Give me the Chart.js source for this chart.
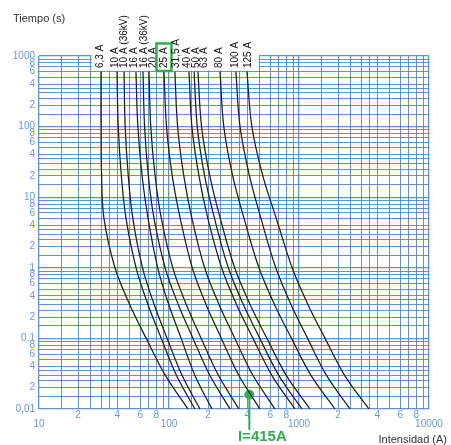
<!DOCTYPE html>
<html>
<head>
<meta charset="utf-8">
<script src="https://cdn.jsdelivr.net/npm/chart.js@4/dist/chart.umd.min.js"></script>
<style>
  html, body { margin: 0; padding: 0; background: #fff; }
  #wrap { width: 451px; height: 445px; position: relative; }
</style>
</head>
<body>
<div id="wrap"><canvas id="c"></canvas></div>
<script>
// Time points (s) at which each melting curve is read
const times = [600, 100, 20, 5, 1, 0.3, 0.1, 0.03, 0.01];

// Current (A) of each fuse curve at the times above
const a6_3    = [30.0, 30.0, 30.3, 31.6, 38.4, 49.9, 66.8, 93.8, 140];
const a10     = [39.8, 40.7, 43.0, 46.7, 55.8, 69.0, 87.3, 114, 158];
const a10kv36 = [45.1, 46.0, 48.6, 52.7, 62.6, 77.0, 96.8, 126, 173];
const a16     = [55.7, 57.6, 62.1, 69.0, 81.9, 99.7, 124, 158, 214];
const a16kv36 = [63.1, 64.9, 69.4, 76.7, 93.4, 118, 153, 206, 295];
const a20     = [70.2, 72.4, 78.2, 87.3, 107, 136, 177, 240, 345];
const a25     = [91.5, 95.7, 106, 122, 151, 193, 253, 344, 501];
const a31_5   = [111, 116.5, 130, 150, 188, 243, 321, 442, 654];
const a40     = [142.5, 150, 170, 199, 254, 331, 443, 618, 932];
const a50     = [156, 165, 188, 224, 286, 374, 500, 699, 1055];
const a63     = [167, 178, 206, 248, 320, 421, 567, 798, 1215];
const a80     = [247, 264, 309, 378, 492, 649, 876, 1236, 1892];
const a100    = [327, 352, 416, 510, 663, 869, 1165, 1628, 2468];
const a125    = [398, 434, 527, 669, 886, 1173, 1587, 2243, 3455];

const fuseNames = ['6,3 A', '10 A', '10 A (36kV)', '16 A', '16 A (36kV)', '20 A', '25 A',
                   '31,5 A', '40 A', '50 A', '63 A', '80 A', '100 A', '125 A'];
const fuseCurves = [a6_3, a10, a10kv36, a16, a16kv36, a20, a25, a31_5, a40, a50, a63, a80, a100, a125];
const highlighted = '25 A';

// Marked operating point
const opCurrent = 415;
const opTime = 0.016;
const opLabel = 'I=415A';

// Grid subdivisions inside each decade and the ones that get a number
const gridSteps = [1, 1.5, 2, 2.5, 3, 3.5, 4, 5, 6, 7, 8, 9];
const numberedSteps = [2, 4, 6, 8];
const xDecades = [10, 100, 1000, 10000];
const xDecadeLabels = ['10', '100', '1000', '10000'];
const yDecades = [0.01, 0.1, 1, 10, 100, 1000];
const yDecadeLabels = ['0,01', '0,1', '1', '10', '100', '1000'];

// ---- drawing ----
const GRID = 'rgba(66,122,208,0.82)';
const TICK_TXT = '#6f96d9';
const GREEN = '#2fae4e';
// horizontal pixel nudges for the rotated rating labels
const labelNudge = [-1, -2, 0, -2, 1, 4, 0, 1, -2, 2, 6, -1, -1, 1];

function gridValues(decades) {
  const out = [];
  for (let i = 0; i < decades.length - 1; i++) {
    for (const s of gridSteps) out.push(+(decades[i] * s).toPrecision(6));
  }
  out.push(decades[decades.length - 1]);
  return out;
}
function stepOf(v) {
  const e = Math.floor(Math.log10(v) + 1e-9);
  return Math.round(v / Math.pow(10, e) * 10) / 10;
}
function isDecade(v) { return stepOf(v) === 1; }

Chart.defaults.font.family = "'Liberation Sans', Arial, sans-serif";

const datasets = fuseCurves.map((arr, i) => ({
  label: fuseNames[i],
  data: arr.map((c, k) => ({ x: c, y: times[k] })),
  showLine: true,
  borderColor: '#1c1c1c',
  borderWidth: 1.25,
  pointRadius: 0,
  tension: 0.35,
  fill: false
}));
datasets.push({
  label: opLabel,
  data: [{ x: opCurrent, y: opTime }],
  showLine: false,
  pointRadius: 4.5,
  pointBackgroundColor: GREEN,
  pointBorderColor: GREEN
});

const overlay = {
  id: 'overlay',
  beforeDatasetsDraw(chart) {
    const { ctx, scales: { x, y }, chartArea } = chart;
    // blank band behind the rating labels
    const x0 = x.getPixelForValue(25) + 1;
    const x1 = x.getPixelForValue(500) - 1;
    const yb = y.getPixelForValue(600) - 1;
    ctx.save();
    ctx.fillStyle = '#fff';
    ctx.fillRect(x0, chartArea.top - 2, x1 - x0, yb - chartArea.top + 2);
    ctx.restore();
  },
  afterDatasetsDraw(chart) {
    const { ctx, scales: { x, y } } = chart;
    ctx.save();
    // rating labels above each curve
    ctx.font = "10px 'Liberation Sans', Arial, sans-serif";
    ctx.fillStyle = '#111';
    ctx.textAlign = 'left';
    ctx.textBaseline = 'middle';
    const baseY = 68;
    fuseCurves.forEach((arr, i) => {
      const px = x.getPixelForValue(arr[0]) + labelNudge[i];
      ctx.save();
      ctx.translate(px, baseY);
      ctx.rotate(-Math.PI / 2);
      ctx.fillText(fuseNames[i], 0, 0.5);
      ctx.restore();
      if (fuseNames[i] === highlighted) {
        const w = ctx.measureText(fuseNames[i]).width;
        ctx.strokeStyle = GREEN;
        ctx.lineWidth = 2.5;
        ctx.strokeRect(px - 7.5, baseY - w - 4, 15, w + 7);
      }
    });

    // operating point marker line and label
    const ox = x.getPixelForValue(opCurrent);
    const oy = y.getPixelForValue(opTime);
    ctx.strokeStyle = GREEN;
    ctx.lineWidth = 2;
    ctx.beginPath();
    ctx.moveTo(ox, oy);
    ctx.lineTo(ox, 430);
    ctx.stroke();
    ctx.font = "bold 15px 'Liberation Sans', Arial, sans-serif";
    ctx.fillStyle = GREEN;
    ctx.textAlign = 'center';
    ctx.textBaseline = 'middle';
    ctx.fillText(opLabel, ox + 13, 437);

    // axis titles
    ctx.font = "11px 'Liberation Sans', Arial, sans-serif";
    ctx.fillStyle = '#333';
    ctx.textAlign = 'left';
    ctx.fillText('Tiempo (s)', 13, 19);
    ctx.textAlign = 'right';
    ctx.fillText('Intensidad (A)', 447, 440);
    ctx.restore();
  }
};

const xTickValues = gridValues(xDecades);
const yTickValues = gridValues(yDecades);

new Chart(document.getElementById('c'), {
  type: 'scatter',
  data: { datasets },
  options: {
    responsive: true,
    maintainAspectRatio: false,
    animation: false,
    events: [],
    layout: { padding: { top: 56, right: 22, left: 0, bottom: 0 } },
    plugins: { legend: { display: false }, tooltip: { enabled: false } },
    scales: {
      x: {
        type: 'logarithmic',
        min: 10, max: 10000,
        afterFit(s) { s.height = 36; },
        afterBuildTicks(s) { s.ticks = xTickValues.map(v => ({ value: v })); },
        border: { display: false },
        grid: {
          drawTicks: false,
          color: GRID,
          lineWidth: c => (c.tick && isDecade(c.tick.value)) ? 1.3 : 1
        },
        ticks: {
          autoSkip: false, maxRotation: 0, minRotation: 0,
          padding: 1,
          color: TICK_TXT,
          font: { size: 10, lineHeight: 0.95 },
          callback(v) {
            if (isDecade(v)) return ['', xDecadeLabels[xDecades.findIndex(d => Math.abs(d - v) < 1e-6 * d)]];
            const s = stepOf(v);
            return numberedSteps.includes(s) ? String(s) : '';
          }
        }
      },
      y: {
        type: 'logarithmic',
        min: 0.01, max: 1000,
        afterFit(s) { s.width = 39; },
        afterBuildTicks(s) { s.ticks = yTickValues.map(v => ({ value: v })); },
        border: { display: false },
        grid: {
          drawTicks: false,
          color: GRID,
          lineWidth: c => (c.tick && isDecade(c.tick.value)) ? 1.3 : 1
        },
        ticks: {
          autoSkip: false,
          padding: 4,
          color: TICK_TXT,
          font: { size: 10 },
          callback(v) {
            if (isDecade(v)) return yDecadeLabels[yDecades.findIndex(d => Math.abs(d - v) < 1e-6 * d)];
            const s = stepOf(v);
            return numberedSteps.includes(s) ? String(s) : '';
          }
        }
      }
    }
  },
  plugins: [overlay]
});
</script>
</body>
</html>
